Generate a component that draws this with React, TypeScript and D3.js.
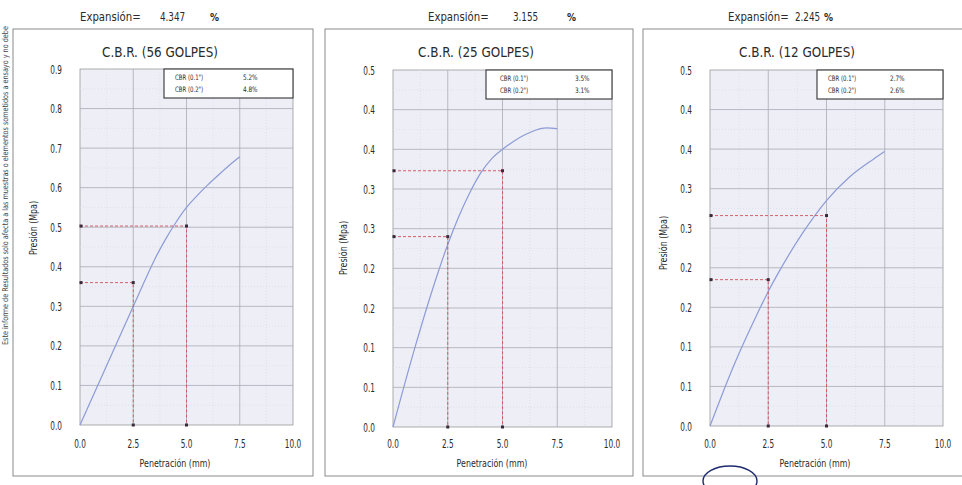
import React from "react";
import * as d3 from "d3";

// ---------- DATA ----------
const titles = ["C.B.R. (56 GOLPES)", "C.B.R. (25 GOLPES)", "C.B.R. (12 GOLPES)"];
const expansions = ["4.347", "3.155", "2.245"];

const penetration56 = [0, 1, 2, 2.5, 3, 3.5, 4, 4.5, 5, 5.5, 6, 6.5, 7, 7.5];
const pressure56 = [0, 0.12, 0.24, 0.30, 0.36, 0.418, 0.468, 0.512, 0.55, 0.58, 0.607, 0.632, 0.656, 0.678];

const penetration25 = [0, 1, 2, 2.5, 3, 3.5, 4, 4.5, 5, 5.5, 6, 6.5, 7, 7.5];
const pressure25 = [0, 0.1, 0.19, 0.23, 0.265, 0.295, 0.32, 0.338, 0.35, 0.36, 0.368, 0.374, 0.377, 0.376];

const penetration12 = [0, 1, 2, 2.5, 3, 4, 5, 6, 7, 7.5];
const pressure12 = [0, 0.075, 0.14, 0.17, 0.197, 0.245, 0.285, 0.315, 0.337, 0.347];

const cbrPenetration = [2.5, 5.0];
const cbrPressure56 = [0.36, 0.503];
const cbrPressure25 = [0.24, 0.323];
const cbrPressure12 = [0.185, 0.266];

const legendLabels = ['CBR (0.1")', 'CBR (0.2")'];
const legendValues56 = ["5.2%", "4.8%"];
const legendValues25 = ["3.5%", "3.1%"];
const legendValues12 = ["2.7%", "2.6%"];

const xTicks = [0, 2.5, 5, 7.5, 10];
const xTickLabels = ["0.0", "2.5", "5.0", "7.5", "10.0"];
const yTicks56 = [0, 0.1, 0.2, 0.3, 0.4, 0.5, 0.6, 0.7, 0.8, 0.9];
const yTickLabels56 = ["0.0", "0.1", "0.2", "0.3", "0.4", "0.5", "0.6", "0.7", "0.8", "0.9"];
const yTicksSmall = [0, 0.05, 0.1, 0.15, 0.2, 0.25, 0.3, 0.35, 0.4, 0.45];
const yTickLabelsSmall = ["0.0", "0.1", "0.1", "0.2", "0.2", "0.3", "0.3", "0.4", "0.4", "0.5"];

const xLabel = "Penetración (mm)";
const yLabel = "Presión (Mpa)";
const sideNote =
  "Este informe de Resultados solo afecta a las muestras o elementos sometidos a ensayo y no debe";

// ---------- LAYOUT ----------
const FONT = "'DejaVu Sans Condensed','Liberation Sans',Arial,sans-serif";

const panels = [
  {
    frame: [13, 29, 313, 476],
    plot: { l: 80, r: 293, t: 69, b: 425 },
    yMax: 0.9, yTicks: yTicks56, yTickLabels: yTickLabels56,
    pen: penetration56, pres: pressure56, cbr: cbrPressure56, legendValues: legendValues56,
    title: titles[0], titleX: 160, exp: expansions[0], expX: [80, 160, 210],
    yLabelPos: [33, 228], xLabelX: 175,
    legend: { x: 164, labelX: 175, valueX: 243 },
  },
  {
    frame: [325, 29, 633, 476],
    plot: { l: 393, r: 612, t: 70, b: 427 },
    yMax: 0.45, yTicks: yTicksSmall, yTickLabels: yTickLabelsSmall,
    pen: penetration25, pres: pressure25, cbr: cbrPressure25, legendValues: legendValues25,
    title: titles[1], titleX: 476, exp: expansions[1], expX: [428, 513, 567],
    yLabelPos: [343, 248], xLabelX: 492,
    legend: { x: 486, labelX: 500, valueX: 575 },
  },
  {
    frame: [643, 29, 975, 476],
    plot: { l: 710, r: 943, t: 70, b: 426 },
    yMax: 0.45, yTicks: yTicksSmall, yTickLabels: yTickLabelsSmall,
    pen: penetration12, pres: pressure12, cbr: cbrPressure12, legendValues: legendValues12,
    title: titles[2], titleX: 797, exp: expansions[2], expX: [728, 795, 824],
    yLabelPos: [663, 243], xLabelX: 815,
    legend: { x: 817, labelX: 828, valueX: 890 },
  },
];

function T({ x, y, s, sx = 1, anchor = "start", rot = 0, weight = "normal", fill = "#2a2a2a", children }: any) {
  return (
    <text
      transform={`translate(${x},${y}) rotate(${rot}) scale(${sx},1)`}
      fontSize={s}
      fontFamily={FONT}
      fill={fill}
      textAnchor={anchor}
      fontWeight={weight}
    >
      {children}
    </text>
  );
}

function Panel({ p }: { p: any }) {
  const { l, r, t, b } = p.plot;
  const x = d3.scaleLinear().domain([0, 10]).range([l, r]);
  const y = d3.scaleLinear().domain([0, p.yMax]).range([b, t]);
  const pts: [number, number][] = p.pen.map((v: number, i: number) => [v, p.pres[i]]);
  const line = d3
    .line<[number, number]>()
    .x((d) => x(d[0]))
    .y((d) => y(d[1]))
    .curve(d3.curveMonotoneX);
  const minorX = d3.range(1.25, 10, 2.5);
  const step = p.yTicks[1] - p.yTicks[0];
  const minorY = p.yTicks.slice(0, -1).map((v: number) => v + step / 2);
  const [fx0, fy0, fx1, fy1] = p.frame;
  const lg = p.legend;
  return (
    <g>
      {/* frame */}
      <rect x={fx0} y={fy0} width={fx1 - fx0} height={fy1 - fy0} fill="#fff" stroke="#8a8a8a" strokeWidth={1} />
      {/* expansion */}
      <T x={p.expX[0]} y={21} s={11.5} sx={0.98}>Expansión=</T>
      <T x={p.expX[1]} y={21} s={11.5} sx={0.85}>{p.exp}</T>
      <T x={p.expX[2]} y={21} s={10} weight="bold">%</T>
      {/* title */}
      <T x={p.titleX} y={57} s={14.5} anchor="middle" sx={0.92}>{p.title}</T>
      {/* plot background */}
      <rect x={l} y={t} width={r - l} height={b - t} fill="#edeef6" stroke="#9a9a9a" strokeWidth={0.8} />
      {minorX.map((v: number) => (
        <line key={"mx" + v} x1={x(v)} x2={x(v)} y1={t} y2={b} stroke="#d8dbe8" strokeWidth={0.7} strokeDasharray="1,2" />
      ))}
      {minorY.map((v: number) => (
        <line key={"my" + v} x1={l} x2={r} y1={y(v)} y2={y(v)} stroke="#d8dbe8" strokeWidth={0.7} strokeDasharray="1,2" />
      ))}
      {xTicks.slice(1, -1).map((v) => (
        <line key={"gx" + v} x1={x(v)} x2={x(v)} y1={t} y2={b} stroke="#a9abb6" strokeWidth={0.8} />
      ))}
      {p.yTicks.slice(1, -1).map((v: number) => (
        <line key={"gy" + v} x1={l} x2={r} y1={y(v)} y2={y(v)} stroke="#a9abb6" strokeWidth={0.8} />
      ))}
      {/* ticks */}
      {xTicks.map((v, i) => (
        <T key={"tx" + v} x={x(v)} y={448} s={12} sx={0.68} anchor="middle">
          {xTickLabels[i]}
        </T>
      ))}
      {p.yTicks.map((v: number, i: number) => (
        <T key={"ty" + i} x={l - 18} y={y(v) + 4.5} s={12} sx={0.68} anchor="end">
          {p.yTickLabels[i]}
        </T>
      ))}
      {/* axis labels */}
      <T x={p.xLabelX} y={467} s={11} sx={0.8} anchor="middle">{xLabel}</T>
      <T x={p.yLabelPos[0] + 4} y={p.yLabelPos[1]} s={11} sx={0.8} anchor="middle" rot={-90}>{yLabel}</T>
      {/* curve */}
      <path d={line(pts) || ""} fill="none" stroke="#8d9bd6" strokeWidth={1.2} />
      {/* cbr dashed guides */}
      {cbrPenetration.map((pen, i) => {
        const yy = y(p.cbr[i]);
        const xx = x(pen);
        return (
          <g key={"c" + i}>
            <polyline
              points={`${x(0)},${yy} ${xx},${yy} ${xx},${y(0)}`}
              fill="none"
              stroke="#d0505a"
              strokeWidth={0.9}
              strokeDasharray="3,2"
            />
            {[[x(0) + 1, yy], [xx, yy], [xx, y(0)]].map((m, j) => (
              <rect key={j} x={m[0] - 1.5} y={m[1] - 1.5} width={3} height={3} fill="#3a2a3a" />
            ))}
          </g>
        );
      })}
      {/* legend */}
      <rect x={lg.x} y={t} width={r - lg.x} height={29} fill="#fff" stroke="#333" strokeWidth={1.1} />
      {legendLabels.map((lab, i) => (
        <g key={"lg" + i}>
          <T x={lg.labelX} y={t + 10.5 + i * 12} s={7.5} sx={0.8}>{lab}</T>
          <T x={lg.valueX} y={t + 10.5 + i * 12} s={7.5} sx={0.85}>{p.legendValues[i]}</T>
        </g>
      ))}
    </g>
  );
}

export default function App() {
  return (
    <svg
      width={962}
      height={485}
      viewBox="0 0 962 485"
      style={{ position: "absolute", left: 0, top: 0, background: "#fff" }}
    >
      <rect x={0} y={0} width={962} height={485} fill="#fff" />
      {panels.map((p, i) => (
        <Panel key={i} p={p} />
      ))}
      <T x={7.5} y={345} s={8} sx={0.9} rot={-90} fill="#444">{sideNote}</T>
      <ellipse cx={730} cy={481} rx={27} ry={15} fill="none" stroke="#1e2a6e" strokeWidth={1.4} />
    </svg>
  );
}
